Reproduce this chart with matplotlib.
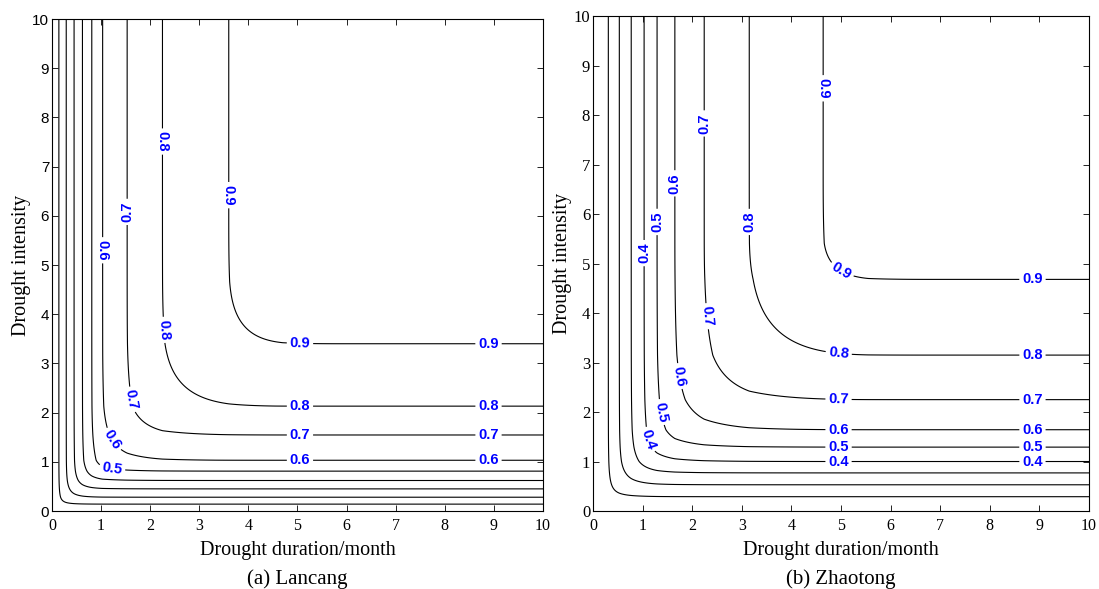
import numpy as np
import matplotlib
matplotlib.use('Agg')
import matplotlib.pyplot as plt

plt.rcParams['font.family'] = ['Liberation Serif', 'DejaVu Serif']

# contour levels (joint probability)
levels = [0.1, 0.2, 0.3, 0.4, 0.5, 0.6, 0.7, 0.8, 0.9]

# marginal CDF: position where each probability is reached
# (levels past 0.9 are estimated from where the 0.9 curve bends)
cdf_probs = [0.0, 0.1, 0.2, 0.3, 0.4, 0.5, 0.6, 0.7, 0.8, 0.9, 0.96, 0.995, 1.0]

lancang_dur = [0, 0.14, 0.29, 0.45, 0.62, 0.81, 1.03, 1.53, 2.25, 3.60, 4.70, 6.0, 10]
lancang_int = [0, 0.14, 0.28, 0.45, 0.62, 0.81, 1.03, 1.545, 2.13, 3.40, 4.66, 6.0, 10]
lancang_theta = 3.5

zhaotong_dur = [0, 0.31, 0.53, 0.77, 1.03, 1.29, 1.65, 2.24, 3.15, 4.64, 5.55, 6.8, 10]
zhaotong_int = [0, 0.29, 0.53, 0.77, 1.00, 1.29, 1.64, 2.25, 3.15, 4.68, 5.41, 6.8, 10]
zhaotong_theta = 3.2


def gumbel(u, v, theta):
    u = np.clip(u, 1e-12, 1.0)
    v = np.clip(v, 1e-12, 1.0)
    a = (-np.log(u)) ** theta
    b = (-np.log(v)) ** theta
    return np.exp(-(a + b) ** (1.0 / theta))


# label spots (x, y, rotation override or None)
lancang_labels = [
    (3.60, 6.42, None), (5.05, 3.40, None), (8.89, 3.40, None),
    (2.25, 7.51, None), (2.25, 3.68, None), (5.05, 2.13, None), (8.89, 2.13, None),
    (1.53, 6.08, 90), (1.59, 2.26, None), (5.05, 1.55, None), (8.89, 1.55, None),
    (1.03, 5.30, None), (1.28, 1.48, None), (5.05, 1.03, None), (8.89, 1.03, None),
    (1.25, 1.04, None),
]
zhaotong_labels = [
    (4.64, 8.54, None), (5.08, 4.97, None), (8.86, 4.68, None),
    (3.15, 5.84, 90), (4.95, 3.15, None), (8.86, 3.15, None),
    (2.24, 7.83, 90), (2.24, 3.93, None), (4.95, 2.25, None), (8.86, 2.25, None),
    (1.65, 6.62, 90), (1.65, 2.71, None), (4.95, 1.64, None), (8.86, 1.64, None),
    (1.29, 5.84, 90), (1.39, 2.00, None), (4.95, 1.29, None), (8.86, 1.29, None),
    (1.03, 5.21, 90), (1.22, 1.47, None), (4.95, 1.00, None), (8.86, 1.00, None),
]

fig = plt.figure(figsize=(10.99, 5.89), dpi=100)
ax1 = fig.add_axes([0.0473, 0.1324, 0.4468, 0.8353])
ax2 = fig.add_axes([0.5396, 0.1324, 0.4513, 0.8404])

g = np.linspace(0, 10, 601)
X, Y = np.meshgrid(g, g)

panels = [
    (ax1, lancang_dur, lancang_int, lancang_theta, lancang_labels, '(a) Lancang'),
    (ax2, zhaotong_dur, zhaotong_int, zhaotong_theta, zhaotong_labels, '(b) Zhaotong'),
]

for ax, dur, inten, theta, labs, caption in panels:
    U = np.interp(X, dur, cdf_probs)
    V = np.interp(Y, inten, cdf_probs)
    Z = gumbel(U, V, theta)
    cs = ax.contour(X, Y, Z, levels=levels, colors='black', linewidths=0.8)
    texts = ax.clabel(cs, manual=[(x, y) for x, y, r in labs], inline=True,
                      inline_spacing=4, fmt='%.1f', fontsize=10.5, colors='blue')
    for t, (x, y, r) in zip(texts, labs):
        t.set_family(['Liberation Sans', 'DejaVu Sans'])
        t.set_weight('bold')
        if r is not None:
            t.set_rotation(r)

    ax.set_xlim(0, 10)
    ax.set_ylim(0, 10)
    ax.set_xticks(range(0, 11))
    ax.set_yticks(range(0, 11))
    ax.tick_params(direction='in', top=True, right=True, length=4, width=0.6)
    ax.tick_params(axis='x', labelsize=11.5, pad=5)
    ax.tick_params(axis='y', labelsize=12, pad=2)
    for sp in ax.spines.values():
        sp.set_linewidth(0.8)
    ax.set_xlabel('Drought duration/month', fontsize=14.5, labelpad=5)
    ax.set_ylabel('Drought intensity', fontsize=14.5, labelpad=1)
    pos = ax.get_position()
    fig.text(pos.x0 + pos.width / 2, 1 - 579 / 589, caption, ha='center', va='center', fontsize=15)

# left panel's intensity ticks are set in a sans face
for lbl in ax1.get_yticklabels():
    lbl.set_family(['Liberation Sans', 'DejaVu Sans'])
    lbl.set_fontsize(11)

fig.savefig('out.png', dpi=100)
